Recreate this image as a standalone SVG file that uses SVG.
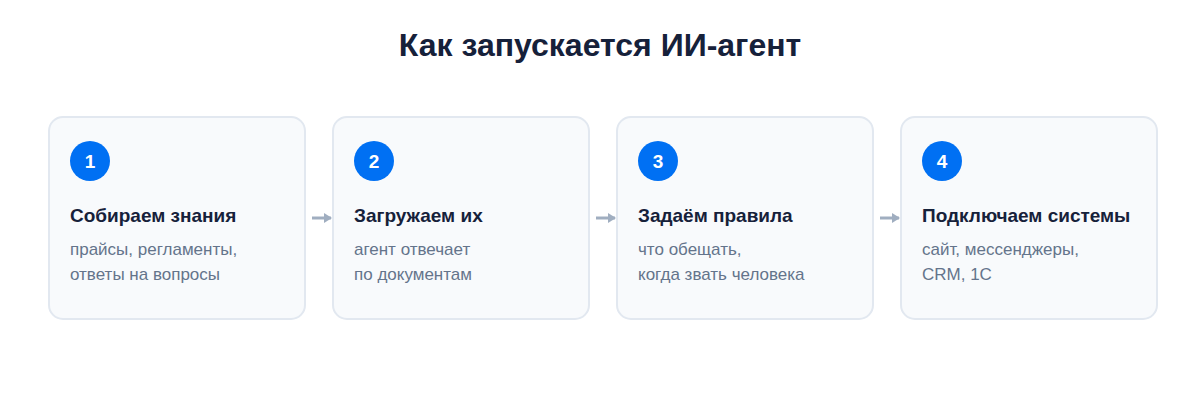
<svg xmlns="http://www.w3.org/2000/svg" width="1200" height="400" viewBox="0 0 1200 400">
<defs>
<style>
text{font-family:"Liberation Sans",Arial,sans-serif}
.title{font-size:32px;font-weight:bold;fill:#16213a;text-anchor:middle}
.card{fill:#f8fafc;stroke:#e2e8f0;stroke-width:2}
.badge{fill:#0070f3}
.num{font-size:19px;font-weight:bold;fill:#ffffff;text-anchor:middle}
.head{font-size:19px;font-weight:bold;fill:#16213a}
.sub{font-size:17px;fill:#64748b}
.conn{stroke:#a0aec0;stroke-width:3;fill:none}
</style>
<marker id="ah" markerWidth="8" markerHeight="10" refX="7" refY="5" orient="auto" markerUnits="userSpaceOnUse">
<path d="M0,0 L8,5 L0,10 Z" fill="#a0aec0"/>
</marker>
</defs>
<rect width="1200" height="400" fill="#ffffff"/>
<text class="title" x="600" y="56">Как запускается ИИ-агент</text>
<g id="node1">
<rect class="card" x="49" y="117" width="256" height="202" rx="14"/>
<circle class="badge" cx="90" cy="161" r="20"/>
<text class="num" x="90" y="168">1</text>
<text class="head" x="70" y="222">Собираем знания</text>
<text class="sub" x="70" y="255">прайсы, регламенты,</text>
<text class="sub" x="70" y="280">ответы на вопросы</text>
</g>
<g id="node2">
<rect class="card" x="333" y="117" width="256" height="202" rx="14"/>
<circle class="badge" cx="374" cy="161" r="20"/>
<text class="num" x="374" y="168">2</text>
<text class="head" x="354" y="222">Загружаем их</text>
<text class="sub" x="354" y="255">агент отвечает</text>
<text class="sub" x="354" y="280">по документам</text>
</g>
<g id="node3">
<rect class="card" x="617" y="117" width="256" height="202" rx="14"/>
<circle class="badge" cx="658" cy="161" r="20"/>
<text class="num" x="658" y="168">3</text>
<text class="head" x="638" y="222">Задаём правила</text>
<text class="sub" x="638" y="255">что обещать,</text>
<text class="sub" x="638" y="280">когда звать человека</text>
</g>
<g id="node4">
<rect class="card" x="901" y="117" width="256" height="202" rx="14"/>
<circle class="badge" cx="942" cy="161" r="20"/>
<text class="num" x="942" y="168">4</text>
<text class="head" x="922" y="222">Подключаем системы</text>
<text class="sub" x="922" y="255">сайт, мессенджеры,</text>
<text class="sub" x="922" y="280">CRM, 1С</text>
</g>
<g id="connectors">
<line class="conn" x1="312" y1="218" x2="331" y2="218" marker-end="url(#ah)"/>
<line class="conn" x1="596" y1="218" x2="615" y2="218" marker-end="url(#ah)"/>
<line class="conn" x1="880" y1="218" x2="899" y2="218" marker-end="url(#ah)"/>
</g>
</svg>
